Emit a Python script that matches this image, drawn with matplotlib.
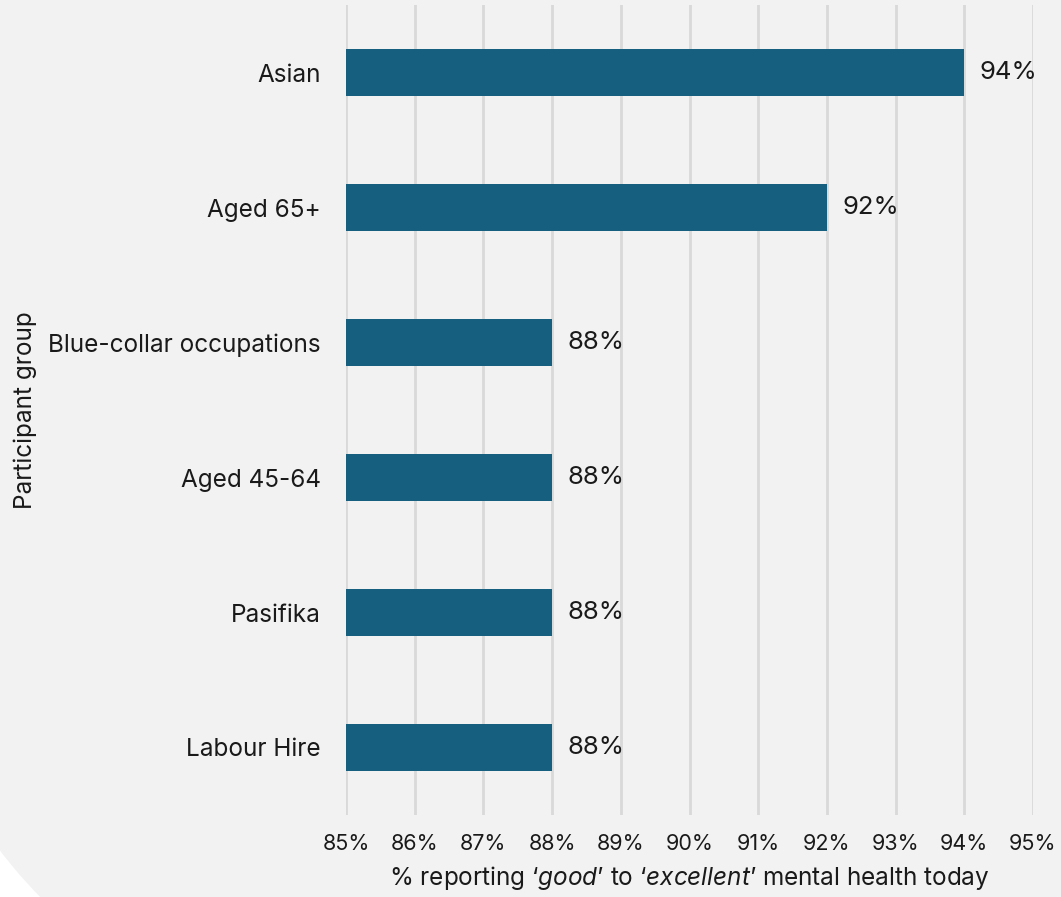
import matplotlib
matplotlib.use('Agg')
import matplotlib.pyplot as plt
from matplotlib.path import Path
from matplotlib.patches import PathPatch
from matplotlib.transforms import Affine2D

groups = ['Asian', 'Aged 65+', 'Blue-collar occupations', 'Aged 45-64', 'Pasifika', 'Labour Hire']
pct_good = [94, 92, 88, 88, 88, 88]
x_ticks = list(range(85, 96))

plt.rcParams['font.family'] = ['Inter', 'DejaVu Sans']
plt.rcParams['mathtext.fontset'] = 'custom'
plt.rcParams['mathtext.rm'] = 'Inter'
plt.rcParams['mathtext.it'] = 'Inter:italic'

W, H = 1061, 897
fig = plt.figure(figsize=(W / 100, H / 100), dpi=100, facecolor='white')

# light grey card, lower-left corner rounded with a large circular arc (inches)
r, cx, cy = 4.8, 3.82, 3.37
arc = Path.arc(180, 270).transformed(Affine2D().scale(r).translate(cx, cy))
verts = list(arc.vertices) + [(12, cy - r), (12, 10), (cx - r, 10), (cx - r, cy)]
codes = list(arc.codes) + [Path.LINETO] * 3 + [Path.CLOSEPOLY]
card = PathPatch(Path(verts, codes), transform=fig.dpi_scale_trans,
                 facecolor='#f2f2f2', edgecolor='none', zorder=-1)
fig.patches.append(card)

ax = fig.add_axes([346 / W, 1 - 815 / H, (1033 - 346) / W, (815 - 5) / H])
ax.set_facecolor('none')

y = list(range(len(groups)))
bars = ax.barh(y, pct_good, height=0.35, color='#175f7f', zorder=3)
ax.bar_label(bars, labels=[f'{v}%' for v in pct_good], padding=11,
             fontsize=18.5, color='#1a1a1a')

ax.set_xlim(85, 95)
ax.set_ylim(len(groups) - 0.5, -0.5)
ax.set_xticks(x_ticks)
ax.set_xticklabels([f'{t}%' for t in x_ticks], fontsize=15.5, color='#1a1a1a')
ax.set_yticks(y)
ax.set_yticklabels(groups, fontsize=17.5, color='#1a1a1a')
ax.tick_params(axis='both', length=0)
ax.tick_params(axis='y', pad=18)
ax.tick_params(axis='x', pad=14)
ax.grid(axis='x', color='#d9d9d9', linewidth=2, zorder=1)
for s in ax.spines.values():
    s.set_visible(False)

ax.set_xlabel(r'% reporting ‘$\it{good}$’ to ‘$\it{excellent}$’ mental health today',
              fontsize=17.5, color='#1a1a1a', labelpad=7)
fig.text(25 / W, 1 - 410 / H, 'Participant group', rotation=90,
         ha='center', va='center', fontsize=17.5, color='#1a1a1a')

fig.savefig('out.png', dpi=100, facecolor='white')
